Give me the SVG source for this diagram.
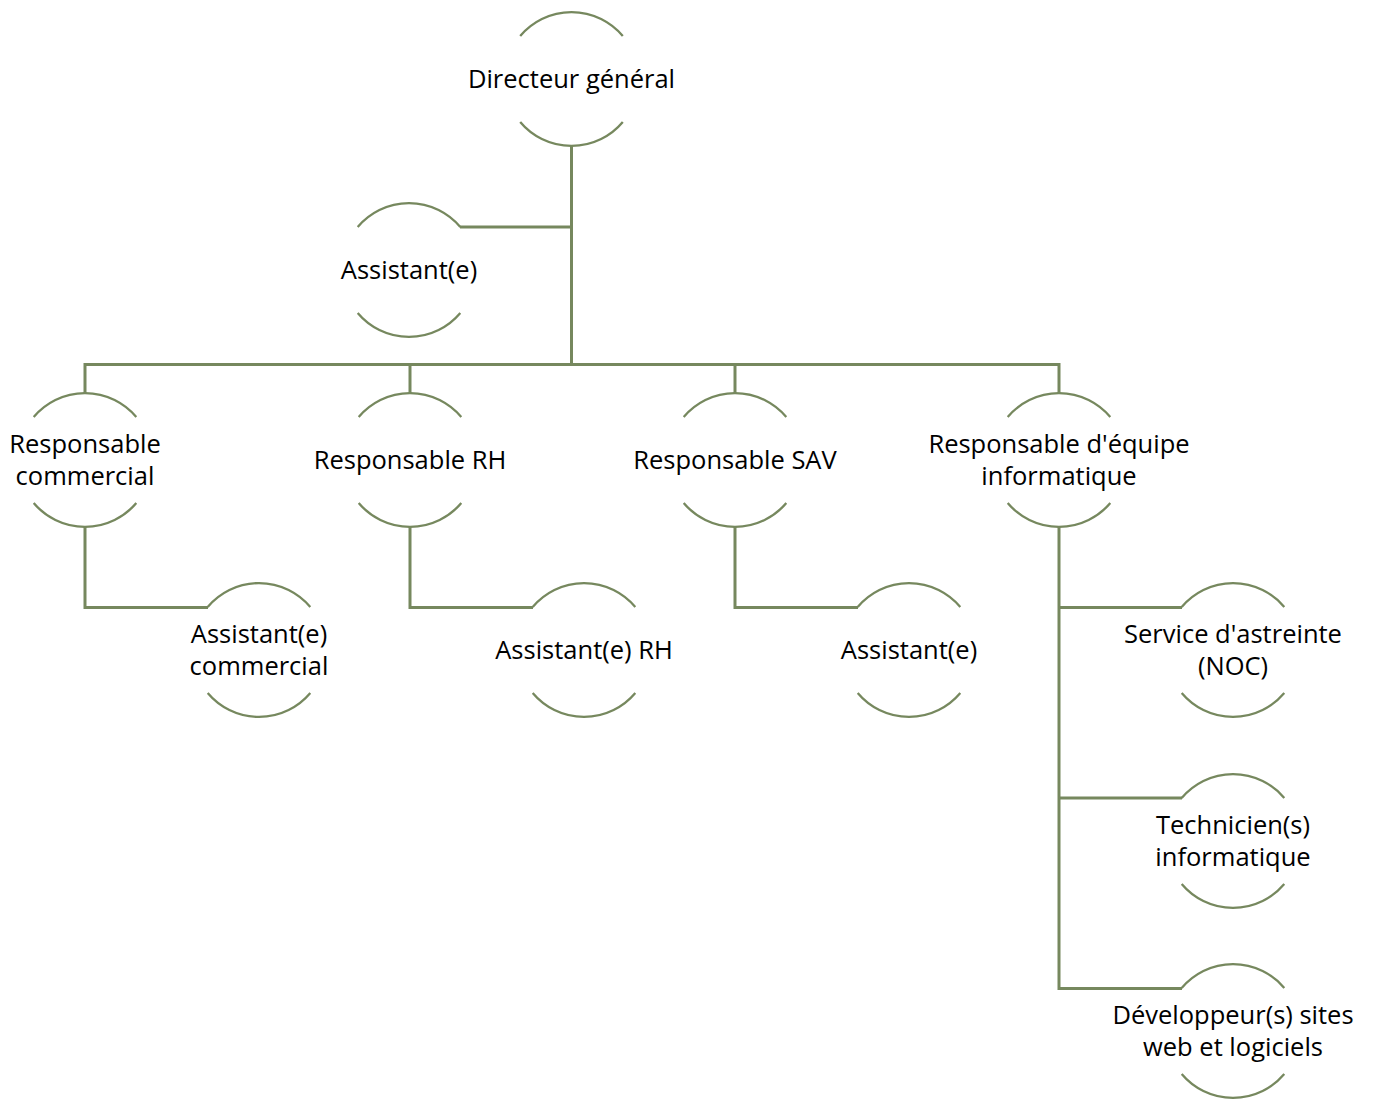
<svg xmlns="http://www.w3.org/2000/svg" xmlns:xlink="http://www.w3.org/1999/xlink" width="1373" height="1100" viewBox="0 0 1373 1100">
  <style>
    .arc { fill: none; stroke: #76885e; stroke-width: 2.3; }
    .link { fill: none; stroke: #76885e; stroke-width: 3; stroke-linejoin: miter; }
    .label { font-family: "Open Sans", "Liberation Sans", sans-serif; font-size: 25.5px; fill: #000000; text-anchor: middle; }
  </style>
  <defs>
    <!-- node outline: an upper and a lower arc of a circle of radius 67, centred on 0,0 -->
    <g id="ring">
      <path class="arc" d="M -51.3 -43 A 67 67 0 0 1 51.3 -43"/>
      <path class="arc" d="M -51.3 43 A 67 67 0 0 0 51.3 43"/>
    </g>
  </defs>
  <rect width="1373" height="1100" fill="#ffffff"/>

  <!-- connectors -->
  <g id="connectors">
    <path class="link" d="M 571.5 146 V 364.5"/>
    <path class="link" d="M 571.5 227 H 460"/>
    <path class="link" d="M 85 393 V 364.5 H 1059 V 393"/>
    <path class="link" d="M 410 364.5 V 393"/>
    <path class="link" d="M 735 364.5 V 393"/>
    <path class="link" d="M 85 527 V 607.5 H 208"/>
    <path class="link" d="M 410 527 V 607.5 H 533"/>
    <path class="link" d="M 735 527 V 607.5 H 858"/>
    <path class="link" d="M 1059 527 V 988.5 H 1182"/>
    <path class="link" d="M 1059 607.5 H 1182"/>
    <path class="link" d="M 1059 798 H 1182"/>
  </g>

  <!-- nodes -->
  <g id="node-directeur">
    <use xlink:href="#ring" x="571.5" y="79"/>
    <text class="label" x="571.5" y="88">Directeur général</text>
  </g>
  <g id="node-assistant-direction">
    <use xlink:href="#ring" x="409" y="270"/>
    <text class="label" x="409" y="279">Assistant(e)</text>
  </g>
  <g id="node-resp-commercial">
    <use xlink:href="#ring" x="85" y="460"/>
    <text class="label" x="85" y="453">Responsable</text>
    <text class="label" x="85" y="485">commercial</text>
  </g>
  <g id="node-resp-rh">
    <use xlink:href="#ring" x="410" y="460"/>
    <text class="label" x="410" y="469">Responsable RH</text>
  </g>
  <g id="node-resp-sav">
    <use xlink:href="#ring" x="735" y="460"/>
    <text class="label" x="735" y="469">Responsable SAV</text>
  </g>
  <g id="node-resp-info">
    <use xlink:href="#ring" x="1059" y="460"/>
    <text class="label" x="1059" y="453">Responsable d'équipe</text>
    <text class="label" x="1059" y="485">informatique</text>
  </g>
  <g id="node-assistant-commercial">
    <use xlink:href="#ring" x="259" y="650"/>
    <text class="label" x="259" y="643">Assistant(e)</text>
    <text class="label" x="259" y="675">commercial</text>
  </g>
  <g id="node-assistant-rh">
    <use xlink:href="#ring" x="584" y="650"/>
    <text class="label" x="584" y="659">Assistant(e) RH</text>
  </g>
  <g id="node-assistant-sav">
    <use xlink:href="#ring" x="909" y="650"/>
    <text class="label" x="909" y="659">Assistant(e)</text>
  </g>
  <g id="node-astreinte">
    <use xlink:href="#ring" x="1233" y="650"/>
    <text class="label" x="1233" y="643">Service d'astreinte</text>
    <text class="label" x="1233" y="675">(NOC)</text>
  </g>
  <g id="node-techniciens">
    <use xlink:href="#ring" x="1233" y="841"/>
    <text class="label" x="1233" y="834">Technicien(s)</text>
    <text class="label" x="1233" y="866">informatique</text>
  </g>
  <g id="node-developpeurs">
    <use xlink:href="#ring" x="1233" y="1031"/>
    <text class="label" x="1233" y="1024">Développeur(s) sites</text>
    <text class="label" x="1233" y="1056">web et logiciels</text>
  </g>
</svg>
